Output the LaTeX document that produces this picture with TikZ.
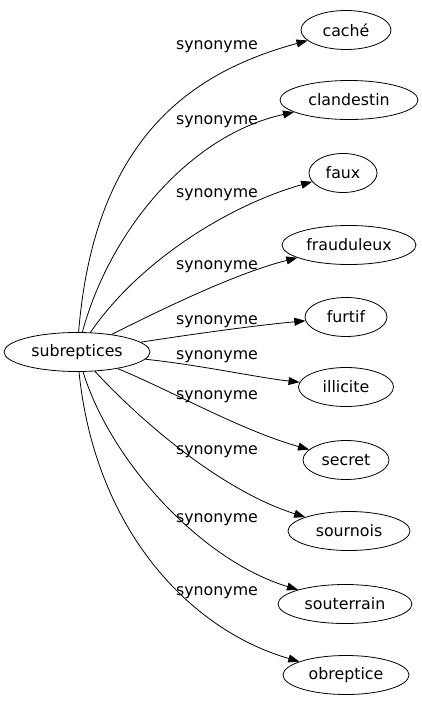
\documentclass[tikz,border=0pt]{standalone}
\usepackage{fontspec}
\setmainfont{DejaVu Sans}
\usetikzlibrary{arrows.meta,shapes.geometric}
\begin{document}
\begin{tikzpicture}[x=1pt,y=-1pt,
  word/.style={draw,ellipse,inner sep=0pt,minimum height=39pt,line width=0.8pt,font=\fontsize{15.8}{16}\selectfont},
  lab/.style={font=\fontsize{15.8}{16}\selectfont,inner sep=0pt},
  syn/.style={draw,line width=0.8pt,-{Triangle[length=11pt,width=8pt]}}]
\useasboundingbox (0,0) rectangle (422,707);
\node[word,minimum width=146pt] (s) at (77,352) {subreptices};
\node[word,minimum width=90pt] (t1) at (346,30) {caché};
\node[word,minimum width=138pt] (t2) at (349,100) {clandestin};
\node[word,minimum width=68pt] (t3) at (343,173) {faux};
\node[word,minimum width=134pt] (t4) at (349,245) {frauduleux};
\node[word,minimum width=82pt] (t5) at (346,317) {furtif};
\node[word,minimum width=95pt] (t6) at (346,387) {illicite};
\node[word,minimum width=86pt] (t7) at (346,460) {secret};
\node[word,minimum width=122pt] (t8) at (349,531) {sournois};
\node[word,minimum width=134pt] (t9) at (345,604) {souterrain};
\node[word,minimum width=126pt] (t10) at (346,675) {obreptice};
\draw[syn] (s) .. controls (95,130) and (200,70) .. (t1);
\draw[syn] (s) .. controls (110,230) and (190,135) .. (t2);
\draw[syn] (s) .. controls (140,260) and (230,205) .. (t3);
\draw[syn] (s) .. controls (170,305) and (240,272) .. (t4);
\draw[syn] (s) .. controls (200,333) and (260,325) .. (t5);
\draw[syn] (s) .. controls (200,365) and (260,378) .. (t6);
\draw[syn] (s) .. controls (170,390) and (240,430) .. (t7);
\draw[syn] (s) .. controls (140,420) and (220,490) .. (t8);
\draw[syn] (s) .. controls (110,460) and (200,560) .. (t9);
\draw[syn] (s) .. controls (95,530) and (190,630) .. (t10);
\node[lab] (l1) at (217,47) {synonyme};
\node[lab] (l2) at (217,122) {synonyme};
\node[lab] (l3) at (217,195) {synonyme};
\node[lab] (l4) at (217,267) {synonyme};
\node[lab] (l5) at (217,322) {synonyme};
\node[lab] (l6) at (217,357) {synonyme};
\node[lab] (l7) at (217,397) {synonyme};
\node[lab] (l8) at (217,452) {synonyme};
\node[lab] (l9) at (217,520) {synonyme};
\node[lab] (l10) at (217,593) {synonyme};
\end{tikzpicture}
\end{document}
